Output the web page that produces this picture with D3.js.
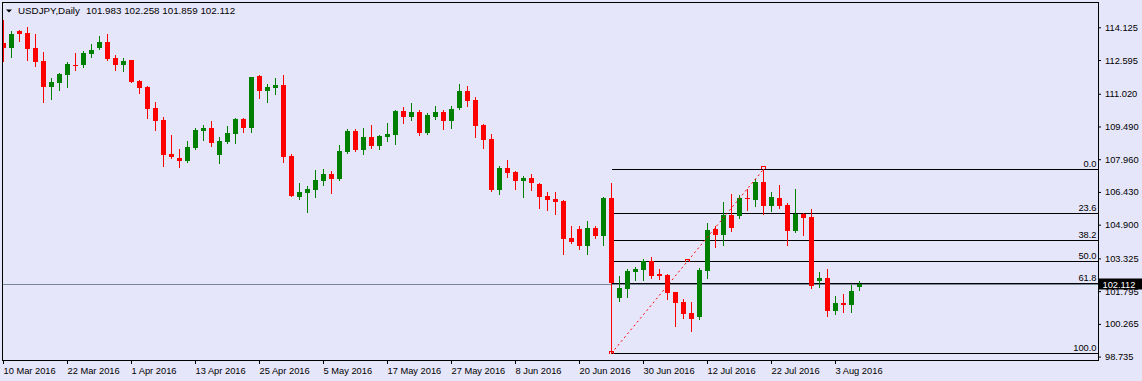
<!DOCTYPE html>
<meta charset="utf-8" />
<head>
  <script src="https://cdn.jsdelivr.net/npm/d3@7"></script>
  <title>USDJPY Daily</title>
  <style>
    body {
      margin: 0;
      background: #e6e6fa;
    }
    text {
      font-family: "Liberation Sans", Arial, sans-serif;
      font-size: 9.3px;
      fill: #000;
    }
    .header {
      font-size: 9.8px;
    }
  </style>
</head>
<body>
  <svg id="chart" width="1142" height="381"></svg>

<script>
  // daily bars, 10 Mar 2016 .. 8 Aug 2016
  const opens = [
    113.38, 113.17, 113.95, 113.86, 113.16, 112.55, 111.34, 111.52, 111.9, 112.36,
    112.36, 112.88, 113.17, 113.44, 112.69, 112.36, 112.6, 111.62, 111.34, 110.35,
    109.79, 108.21, 108.02, 107.88, 108.49, 109.28, 109.42, 108.16, 108.77, 109.14,
    109.84, 109.42, 111.85, 111.15, 111.29, 111.43, 108.11, 106.2, 106.38, 106.52,
    106.94, 107.27, 107.04, 108.3, 109.28, 108.39, 109.0, 108.58, 109.0, 109.09,
    110.21, 109.93, 110.17, 109.19, 109.93, 110.17, 109.75, 110.35, 111.15, 110.73,
    109.56, 108.91, 106.52, 107.55, 107.36, 106.94, 107.08, 106.8, 106.24, 106.1,
    106.01, 104.28, 104.7, 103.91, 104.75, 104.37, 106.15, 101.48, 101.9, 102.69,
    102.78, 103.21, 102.6, 102.55, 101.76, 101.29, 100.78, 100.59, 102.74, 104.7,
    104.42, 105.35, 105.31, 106.15, 106.06, 106.9, 105.78, 106.15, 105.82, 104.61,
    105.4, 105.26, 102.27, 102.41, 100.87, 101.24, 101.15, 101.983
  ];
  const highs = [
    114.47, 113.95, 114.01, 114.14, 113.81, 112.97, 111.76, 112.0, 112.5, 112.92,
    113.02, 113.36, 113.73, 113.83, 112.83, 112.69, 112.62, 111.64, 111.38, 110.64,
    109.93, 109.09, 108.44, 108.81, 109.42, 109.56, 109.75, 109.0, 109.51, 109.89,
    109.89, 111.8, 111.9, 111.49, 111.76, 111.9, 108.21, 106.85, 106.71, 107.46,
    107.5, 107.41, 108.63, 109.37, 109.37, 109.42, 109.56, 109.09, 109.65, 110.26,
    110.4, 110.59, 110.26, 110.12, 110.45, 110.26, 110.45, 111.48, 111.38, 110.87,
    109.61, 109.14, 107.64, 107.92, 107.41, 107.18, 107.27, 106.85, 106.43, 106.43,
    106.06, 104.84, 104.84, 105.07, 104.84, 106.2, 106.85, 102.5, 102.83, 102.92,
    103.3, 103.39, 102.83, 102.6, 101.76, 101.43, 101.29, 102.88, 104.98, 104.84,
    105.96, 106.34, 106.29, 106.57, 107.04, 107.49, 106.43, 106.76, 105.92, 106.57,
    105.45, 105.64, 102.69, 102.83, 101.57, 101.66, 102.08, 102.258
  ];
  const lows = [
    112.56, 112.75, 113.5, 112.6, 112.33, 110.65, 110.78, 111.2, 111.34, 112.13,
    112.27, 112.75, 113.11, 112.6, 112.13, 112.08, 111.57, 111.06, 109.89, 109.33,
    107.64, 108.02, 107.6, 107.83, 108.46, 108.86, 108.58, 107.78, 108.72, 108.72,
    109.23, 109.23, 110.82, 110.64, 111.01, 107.83, 106.22, 106.1, 105.49, 106.2,
    106.76, 106.38, 107.01, 108.25, 108.35, 108.21, 108.49, 108.44, 108.81, 108.67,
    109.65, 109.79, 109.09, 109.14, 109.84, 109.37, 109.42, 110.33, 110.45, 109.0,
    108.49, 106.48, 106.34, 107.13, 106.57, 106.2, 106.52, 105.68, 105.59, 105.4,
    103.53, 104.05, 103.77, 103.53, 104.28, 103.95, 98.89, 101.34, 101.52, 102.32,
    102.32, 102.41, 102.36, 101.43, 100.17, 100.54, 99.93, 100.49, 102.41, 103.86,
    103.95, 104.61, 105.21, 105.59, 105.78, 105.4, 105.54, 105.68, 103.95, 104.56,
    104.42, 101.94, 101.99, 100.64, 100.73, 100.82, 100.82, 101.859
  ];
  const closes = [
    113.17, 113.83, 113.83, 113.11, 112.52, 111.34, 111.57, 111.96, 112.41, 112.33,
    112.94, 113.07, 113.44, 112.64, 112.36, 112.55, 111.59, 111.29, 110.31, 109.75,
    108.16, 108.06, 107.88, 108.53, 109.33, 109.42, 108.72, 108.81, 109.19, 109.84,
    109.42, 111.8, 111.15, 111.34, 111.43, 108.06, 106.24, 106.43, 106.57, 106.99,
    107.27, 107.04, 108.35, 109.28, 108.39, 109.0, 108.58, 109.05, 109.14, 110.21,
    109.93, 110.17, 109.19, 110.03, 110.17, 109.75, 110.31, 111.15, 110.68, 109.51,
    108.86, 106.52, 107.55, 107.32, 106.94, 107.08, 106.85, 106.2, 106.06, 105.96,
    104.23, 104.09, 103.91, 104.75, 104.37, 106.15, 102.16, 101.94, 102.74, 102.83,
    103.21, 102.5, 102.5, 101.71, 101.24, 100.73, 100.49, 102.78, 104.65, 104.42,
    105.35, 104.75, 106.15, 106.1, 106.9, 105.78, 106.2, 105.78, 104.61, 105.4,
    105.21, 102.04, 102.41, 100.87, 101.24, 101.15, 101.8, 102.112
  ];

  const priceTicks = [114.125, 112.595, 111.02, 109.49, 107.96, 106.43, 104.9, 103.325, 101.795, 100.265, 98.735];
  const dateLabels = ["10 Mar 2016", "22 Mar 2016", "1 Apr 2016", "13 Apr 2016", "25 Apr 2016", "5 May 2016",
    "17 May 2016", "27 May 2016", "8 Jun 2016", "20 Jun 2016", "30 Jun 2016", "12 Jul 2016", "22 Jul 2016", "3 Aug 2016"];
  const dateLabelBars = [0, 8, 16, 24, 32, 40, 48, 56, 64, 72, 80, 88, 96, 104];

  const fibLevels = [0, 23.6, 38.2, 50, 61.8, 100];
  const fibLowBar = 76;   // 24 Jun
  const fibHighBar = 95;  // 21 Jul

  const symbol = "USDJPY,Daily";

  const bars = opens.map((o, i) => ({ i, o, h: highs[i], l: lows[i], c: closes[i] }));

  const svg = d3.select("#chart");
  const W = +svg.attr("width");
  const plot = { left: 2.5, top: 2.5, right: 1098.5, bottom: 360.5 };

  const x = d3.scaleLinear().domain([0, 107]).range([3, 859]);
  const y = d3.scaleLinear().domain([98.735, 114.125]).range([356.6, 27.3]);

  svg.append("rect").attr("width", W).attr("height", 381).attr("fill", "#e6e6fa");

  svg.append("defs").append("clipPath").attr("id", "clip")
    .append("rect")
    .attr("x", plot.left + 0.5).attr("y", plot.top + 0.5)
    .attr("width", plot.right - plot.left - 1).attr("height", plot.bottom - plot.top - 1);

  const g = svg.append("g").attr("clip-path", "url(#clip)").attr("shape-rendering", "crispEdges");

  // fibonacci levels
  const fHigh = highs[fibHighBar], fLow = lows[fibLowBar];
  const fibG = g.append("g");
  fibLevels.forEach((lv) => {
    const py = Math.round(y(fHigh - (fHigh - fLow) * lv / 100)) + 0.5;
    fibG.append("line")
      .attr("x1", Math.round(x(fibLowBar)) + 0.5).attr("x2", plot.right)
      .attr("y1", py).attr("y2", py)
      .attr("stroke", "#000");
    fibG.append("text")
      .attr("x", plot.right - 2).attr("y", py - 3)
      .attr("text-anchor", "end")
      .text(d3.format(".1f")(lv));
  });

  // current price line
  const last = closes[closes.length - 1];
  const lastY = Math.round(y(last)) + 0.5;
  g.append("line")
    .attr("x1", plot.left).attr("x2", plot.right)
    .attr("y1", lastY).attr("y2", lastY)
    .attr("stroke", "#778899");

  // candles
  const up = "#008000", down = "#ff0000";
  const candle = g.selectAll(".bar").data(bars).enter().append("g").attr("class", "bar");
  candle.append("line")
    .attr("x1", (d) => Math.round(x(d.i)) + 0.5)
    .attr("x2", (d) => Math.round(x(d.i)) + 0.5)
    .attr("y1", (d) => Math.round(y(d.h)))
    .attr("y2", (d) => Math.round(y(d.l)) + 1)
    .attr("stroke", (d) => (d.c > d.o ? up : down));
  candle.append("rect")
    .attr("x", (d) => Math.round(x(d.i)) - 2)
    .attr("width", 5)
    .attr("y", (d) => Math.round(y(Math.max(d.o, d.c))))
    .attr("height", (d) => Math.max(1, Math.round(y(Math.min(d.o, d.c))) - Math.round(y(Math.max(d.o, d.c)))))
    .attr("fill", (d) => (d.c > d.o ? up : down));

  // fib trend line (dotted red) + anchor marks
  const p0 = [Math.round(x(fibLowBar)) + 0.5, y(fLow)];
  const p1 = [Math.round(x(fibHighBar)) + 0.5, y(fHigh)];
  svg.append("line")
    .attr("x1", p0[0]).attr("y1", p0[1]).attr("x2", p1[0]).attr("y2", p1[1])
    .attr("stroke", down).attr("stroke-width", 1).attr("stroke-dasharray", "2,3");
  const mark = (px, py) =>
    svg.append("path")
      .attr("d", `M${px - 2},${py + 1}V${py - 1}H${px + 2}V${py + 1}`)
      .attr("fill", "none").attr("stroke", down).attr("shape-rendering", "crispEdges");
  mark(p0[0], Math.round(p0[1]) - 0.5);
  mark(p1[0], Math.round(p1[1]) - 1.5);
  mark((p0[0] + p1[0]) / 2, Math.round((p0[1] + p1[1]) / 2) - 0.5);

  // frame
  svg.append("rect")
    .attr("x", plot.left).attr("y", plot.top)
    .attr("width", plot.right - plot.left).attr("height", plot.bottom - plot.top)
    .attr("fill", "none").attr("stroke", "#000").attr("shape-rendering", "crispEdges");

  // price axis
  const yAxis = svg.append("g")
    .attr("transform", `translate(${plot.right - 0.5},0)`)
    .call(d3.axisRight(y).tickValues(priceTicks).tickSize(3).tickPadding(4).tickFormat(d3.format(".3f")));
  yAxis.select(".domain").remove();
  yAxis.attr("color", "#000");

  // time axis
  const xAxis = svg.append("g")
    .attr("transform", `translate(0,${plot.bottom - 0.5})`)
    .call(d3.axisBottom(x).tickValues(dateLabelBars).tickSize(4).tickPadding(3)
      .tickFormat((d, i) => dateLabels[i]));
  xAxis.select(".domain").remove();
  xAxis.attr("color", "#000");
  xAxis.selectAll("text").attr("text-anchor", "start");

  // last price tag
  svg.append("rect")
    .attr("x", plot.right).attr("y", lastY - 6)
    .attr("width", W - plot.right).attr("height", 11)
    .attr("fill", "#000");
  svg.append("text")
    .attr("x", plot.right + 4).attr("y", lastY + 3.5)
    .style("fill", "#fff")
    .text(d3.format(".3f")(last));

  // header
  svg.append("path").attr("d", "M6,9.5H12L9,12.5Z").attr("fill", "#000");
  svg.append("text").attr("class", "header").attr("x", 18).attr("y", 14).text(symbol);
  svg.append("text").attr("class", "header").attr("x", 86).attr("y", 14)
    .text([opens, highs, lows, closes].map((a) => d3.format(".3f")(a[a.length - 1])).join(" "));
</script>
</body>
